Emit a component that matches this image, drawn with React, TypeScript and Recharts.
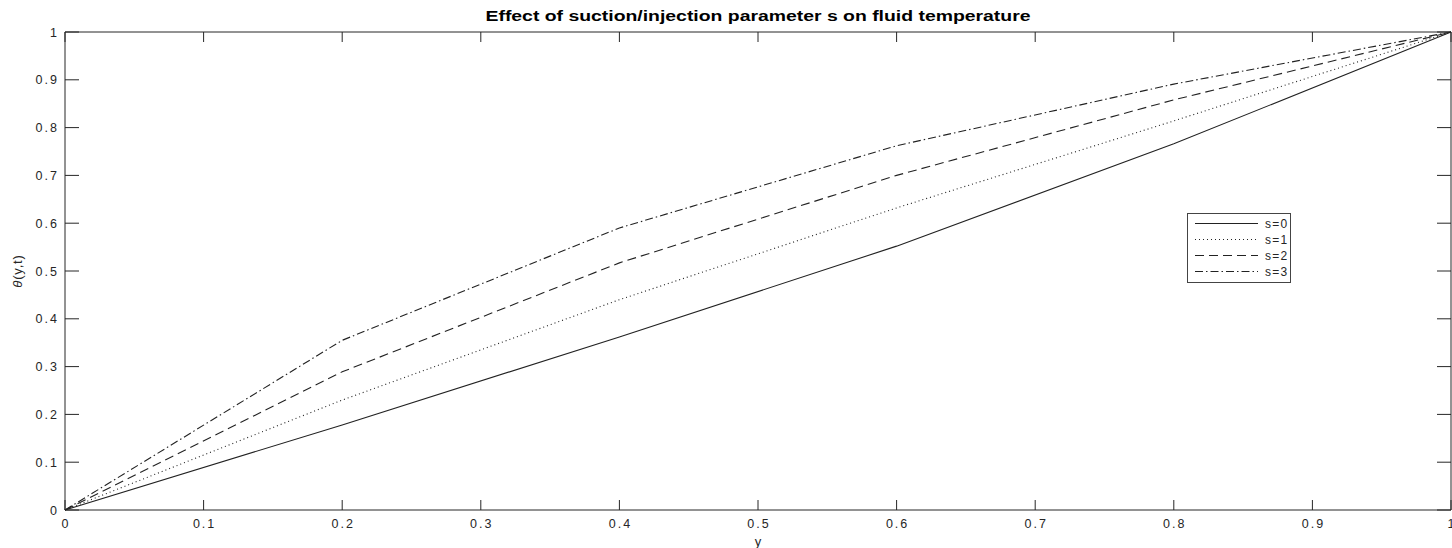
import { LineChart, Line, XAxis, YAxis, ReferenceArea, Legend, Label } from "recharts";

// y positions along the channel
const Y_POS = [0, 0.2, 0.4, 0.6, 0.8, 1];
// temperature profiles for each suction/injection parameter
const S0 = [0, 0.178, 0.362, 0.552, 0.766, 1];
const S1 = [0, 0.23, 0.44, 0.632, 0.814, 1];
const S2 = [0, 0.289, 0.517, 0.7, 0.858, 1];
const S3 = [0, 0.355, 0.59, 0.762, 0.891, 1];

const X_TICKS = [0, 0.1, 0.2, 0.3, 0.4, 0.5, 0.6, 0.7, 0.8, 0.9, 1];
const Y_TICKS = [0, 0.1, 0.2, 0.3, 0.4, 0.5, 0.6, 0.7, 0.8, 0.9, 1];

const SERIES = [
  { key: "s0", name: "s=0", dash: undefined as string | undefined },
  { key: "s1", name: "s=1", dash: "1 3" },
  { key: "s2", name: "s=2", dash: "9 5" },
  { key: "s3", name: "s=3", dash: "8 3 1.5 3" },
];

const rows = Y_POS.map((y, i) => ({ y, s0: S0[i], s1: S1[i], s2: S2[i], s3: S3[i] }));

const W = 1452;
const H = 548;
const PLOT_LEFT = 65;
const PLOT_RIGHT = 1451;
const PLOT_TOP = 32;
const PLOT_BOTTOM = 510;
const AXIS = "#262626";
const LINE = "#222";
const FONT = "'Liberation Sans', Arial, sans-serif";

const XTick = (p: any) => {
  const x = p.x;
  return (
    <g>
      <line x1={x} x2={x} y1={PLOT_BOTTOM} y2={PLOT_BOTTOM - 10} stroke={AXIS} />
      <line x1={x} x2={x} y1={PLOT_TOP} y2={PLOT_TOP + 10} stroke={AXIS} />
      <text x={x + 1} y={PLOT_BOTTOM + 18} textAnchor="middle" fontSize={12.5} letterSpacing={2} fill={AXIS} fontFamily={FONT}>
        {String(p.payload.value)}
      </text>
    </g>
  );
};

const YTick = (p: any) => {
  const y = p.y;
  return (
    <g>
      <line x1={PLOT_LEFT} x2={PLOT_LEFT + 14} y1={y} y2={y} stroke={AXIS} />
      <line x1={PLOT_RIGHT} x2={PLOT_RIGHT - 14} y1={y} y2={y} stroke={AXIS} />
      <text x={PLOT_LEFT - 6} y={y + 4.5} textAnchor="end" fontSize={12.5} letterSpacing={2} fill={AXIS} fontFamily={FONT}>
        {String(p.payload.value)}
      </text>
    </g>
  );
};

const LegendBox = () => (
  <div style={{ width: 102, height: 68, border: "1px solid #444", background: "#fff" }}>
    <svg width={102} height={68}>
      {SERIES.map((s, i) => {
        const ry = 9.5 + i * 16;
        return (
          <g key={s.key}>
            <line x1={7} x2={70} y1={ry} y2={ry} stroke={LINE} strokeDasharray={s.dash} />
            <text x={77} y={ry + 4} fontSize={12} letterSpacing={1.2} fill={AXIS} fontFamily={FONT}>
              {s.name}
            </text>
          </g>
        );
      })}
    </svg>
  </div>
);

export default function App() {
  return (
    <div style={{ position: "absolute", left: 0, top: 0, width: W, height: H, background: "#fff" }}>
      <LineChart width={W} height={H} data={rows} margin={{ top: PLOT_TOP, right: W - PLOT_RIGHT, bottom: 0, left: 0 }}>
        <XAxis
          dataKey="y"
          type="number"
          domain={[0, 1]}
          ticks={X_TICKS}
          height={H - PLOT_BOTTOM}
          tickSize={0}
          tickMargin={0}
          axisLine={false}
          tickLine={false}
          tick={XTick}
          interval={0}
        >
          <Label
            content={() => (
              <text x={(PLOT_LEFT + PLOT_RIGHT) / 2} y={H - 2} textAnchor="middle" fontSize={13} fill={AXIS} fontFamily={FONT}>
                y
              </text>
            )}
          />
        </XAxis>
        <YAxis
          type="number"
          domain={[0, 1]}
          ticks={Y_TICKS}
          width={PLOT_LEFT}
          tickSize={0}
          tickMargin={0}
          axisLine={false}
          tickLine={false}
          tick={YTick}
          interval={0}
        >
          <Label
            content={() => (
              <text
                transform={`translate(22, ${(PLOT_TOP + PLOT_BOTTOM) / 2}) rotate(-90)`}
                textAnchor="middle"
                fontSize={13}
                letterSpacing={0.8}
                fill={AXIS}
                fontFamily={FONT}
              >
                <tspan fontStyle="italic">θ</tspan>(y,t)
              </text>
            )}
          />
        </YAxis>
        <ReferenceArea x1={0} x2={1} y1={0} y2={1} fill="none" stroke={AXIS} strokeOpacity={1} ifOverflow="visible" />
        {SERIES.map((s) => (
          <Line
            key={s.key}
            dataKey={s.key}
            name={s.name}
            type="linear"
            stroke={LINE}
            strokeWidth={1.1}
            strokeDasharray={s.dash}
            dot={false}
            activeDot={false}
            isAnimationActive={false}
          />
        ))}
        <Legend
          layout="vertical"
          align="center"
          verticalAlign="middle"
          content={LegendBox}
          wrapperStyle={{ left: 1187, top: 213, width: 104, height: 70 }}
        />
        <text
          x={(PLOT_LEFT + PLOT_RIGHT) / 2}
          y={21}
          textAnchor="middle"
          fontSize={14}
          fontWeight="bold"
          fill="#000"
          fontFamily={FONT}
          textLength={545}
          lengthAdjust="spacingAndGlyphs"
        >
          Effect of suction/injection parameter s on fluid temperature
        </text>
      </LineChart>
    </div>
  );
}
